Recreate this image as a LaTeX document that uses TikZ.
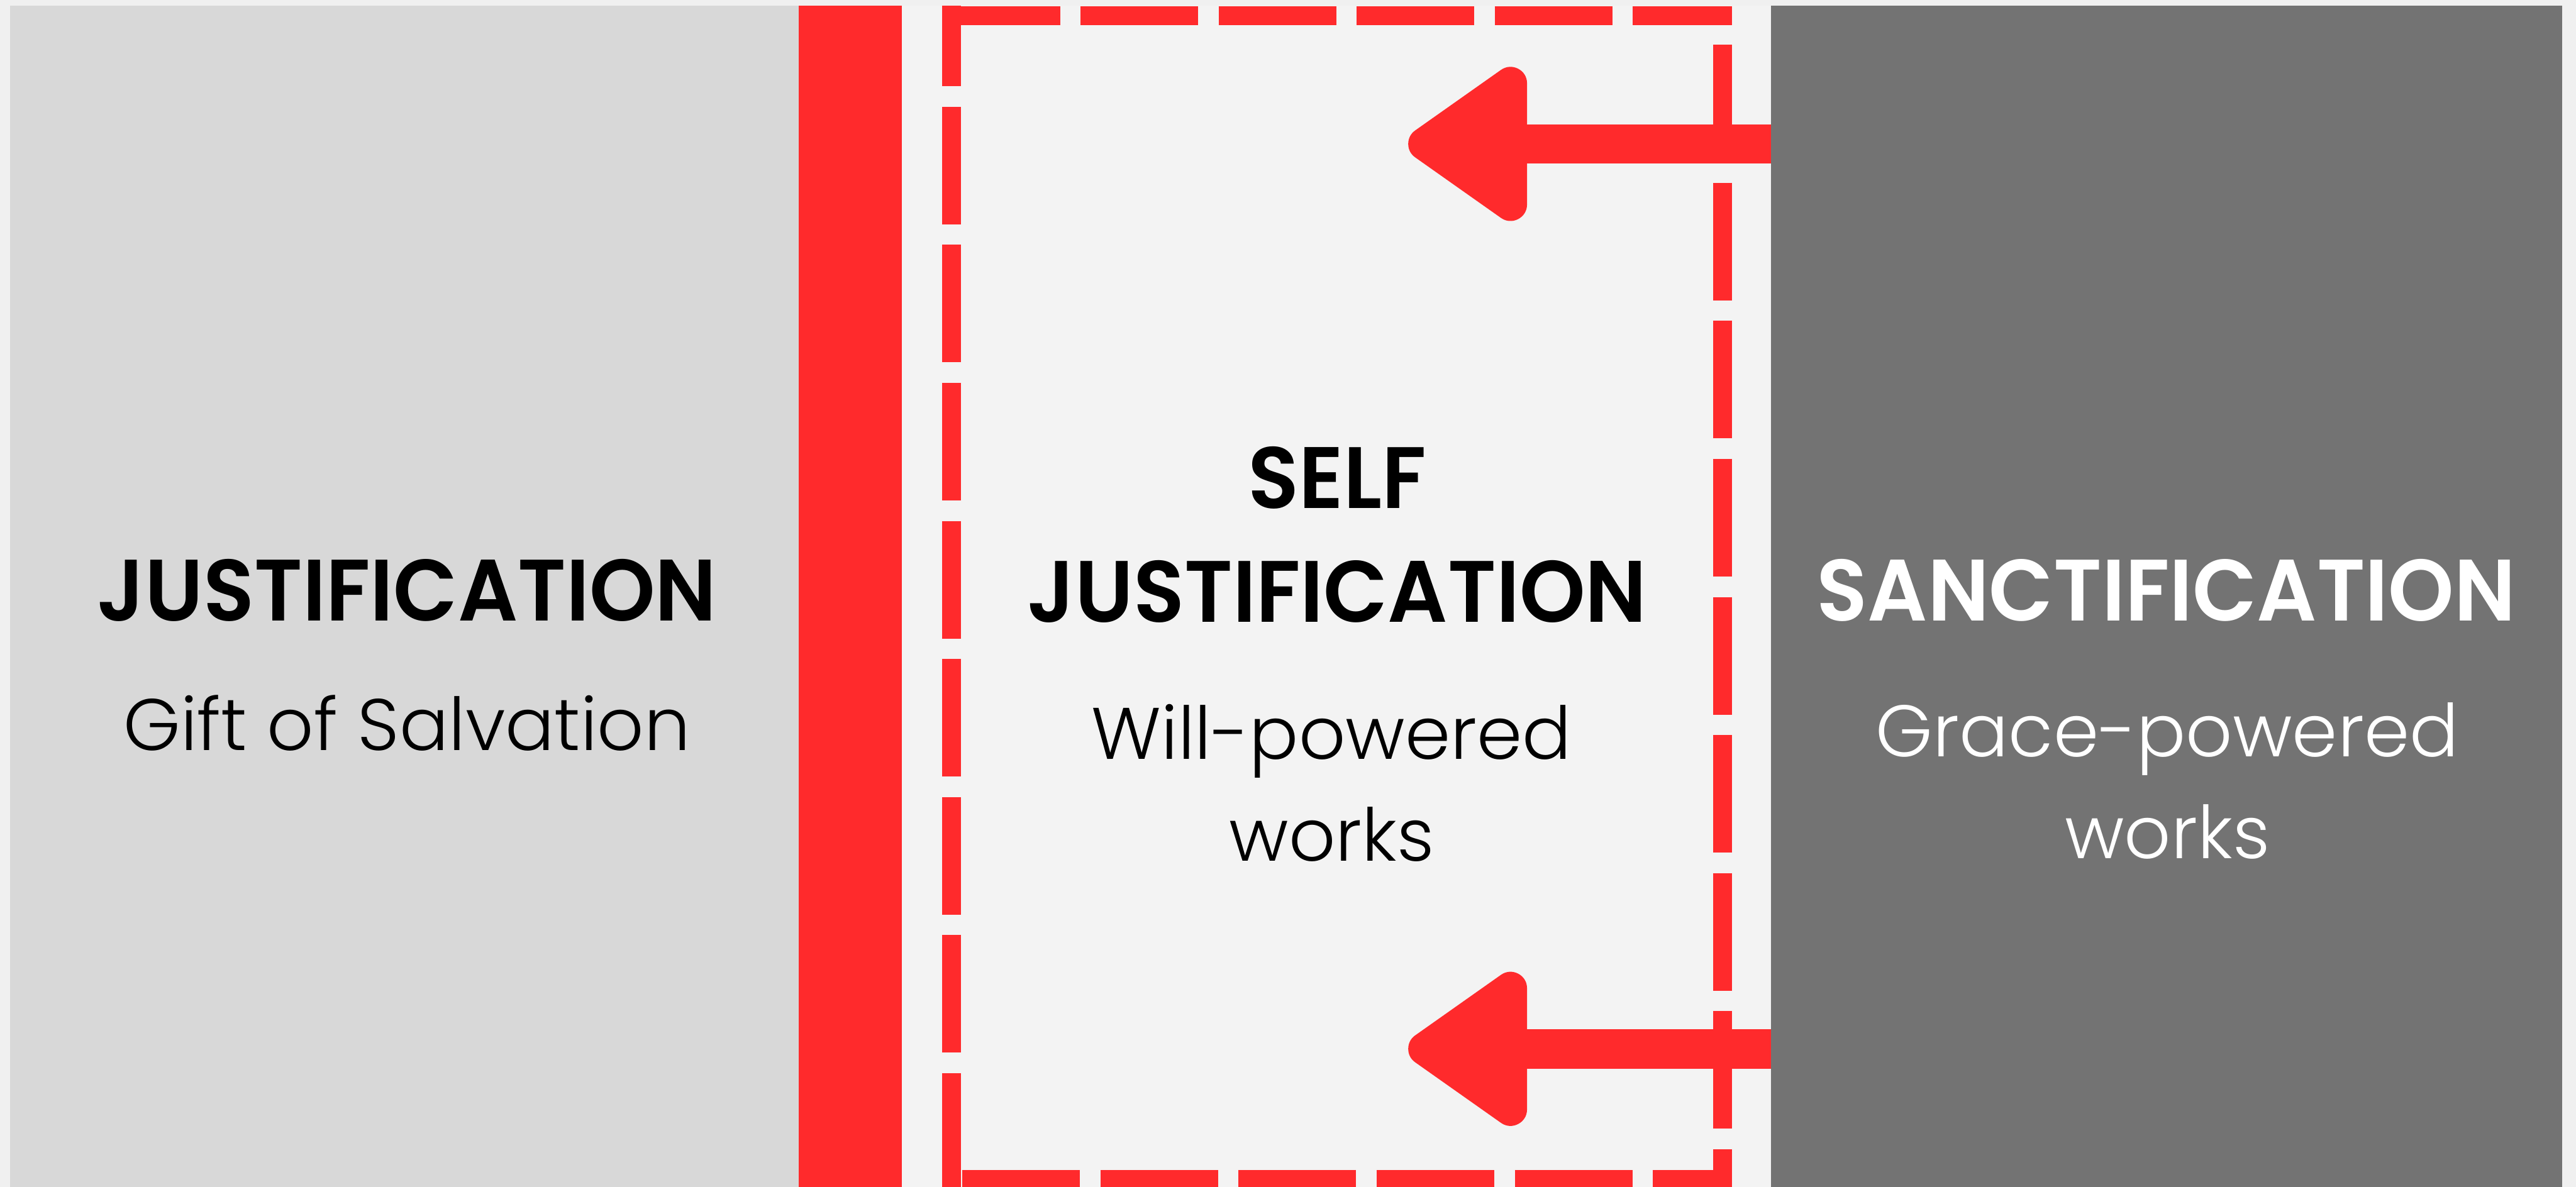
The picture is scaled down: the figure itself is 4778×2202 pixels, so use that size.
\documentclass[tikz,border=0pt]{standalone}
\usepackage{fontspec}
\setmainfont{Poppins}[BoldFont={Poppins SemiBold},BoldFeatures={FakeStretch=0.96}]
\newfontfamily\thinfont{Poppins Light}
\usetikzlibrary{arrows.meta}
\definecolor{bgpage}{HTML}{F0F0F0}
\definecolor{justgrey}{HTML}{D8D8D8}
\definecolor{midgrey}{HTML}{F3F3F3}
\definecolor{sanctgrey}{HTML}{737373}
\definecolor{alarm}{HTML}{FF2A2C}

\begin{document}
\begin{tikzpicture}[x=0.01cm,y=-0.01cm,
   panel/.style={anchor=north west,inner sep=0pt,outer sep=0pt,minimum height=22.5cm},
   headtxt/.style={font=\bfseries\fontsize{46}{60}\selectfont,align=center,inner sep=0pt,anchor=base},
   subtxt/.style={font=\thinfont\fontsize{38.5}{53.8}\selectfont,align=center,inner sep=0pt,anchor=base},
   fence/.style={alarm,line width=0.35cm,dash pattern=on 2.18cm off 0.38cm},
   push/.style={alarm,line width=0.73cm,-{Triangle[length=2.45cm,width=3.25cm,round]}}]
  \useasboundingbox[fill=bgpage] (0,0) rectangle (4778,2202);
  % panels
  \node[panel,fill=justgrey,minimum width=14.62cm]  (just)  at (19,11)   {};
  \node[panel,fill=midgrey,minimum width=18.04cm]   (self)  at (1481,11) {};
  \node[panel,fill=sanctgrey,minimum width=14.67cm] (sanct) at (3285,11) {};
  % the wall
  \fill[alarm] (1481,11) rectangle (1673,2260);
  % the dashed fence
  \draw[fence] (1748,29) -- (3212,29);
  \draw[fence,dash phase=0.69cm] (1765,11) -- (1765,2260);
  \draw[fence] (3195,83) -- (3195,2260);
  \draw[fence] (1785,2188) -- (3177,2188);
  % texts (base = last line)
  \node[headtxt]              (jt) at (755,1152)  {JUSTIFICATION};
  \node[subtxt]               (js) at (755,1392)  {Gift of Salvation};
  \node[headtxt]              (st) at (2480,1154) {SELF\\JUSTIFICATION};
  \node[subtxt]               (ss) at (2470,1598) {Will-powered\\works};
  \node[headtxt,text=white]   (ct) at (4018,1152) {SANCTIFICATION};
  \node[subtxt,text=white]    (cs) at (4020,1593) {Grace-powered\\works};
  % arrows out of sanctification
  \coordinate (tipA) at (2612,267);
  \coordinate (tipB) at (2612,1946);
  \draw[push] (tipA -| sanct.west) -- (tipA);
  \draw[push] (tipB -| sanct.west) -- (tipB);
\end{tikzpicture}
\end{document}
